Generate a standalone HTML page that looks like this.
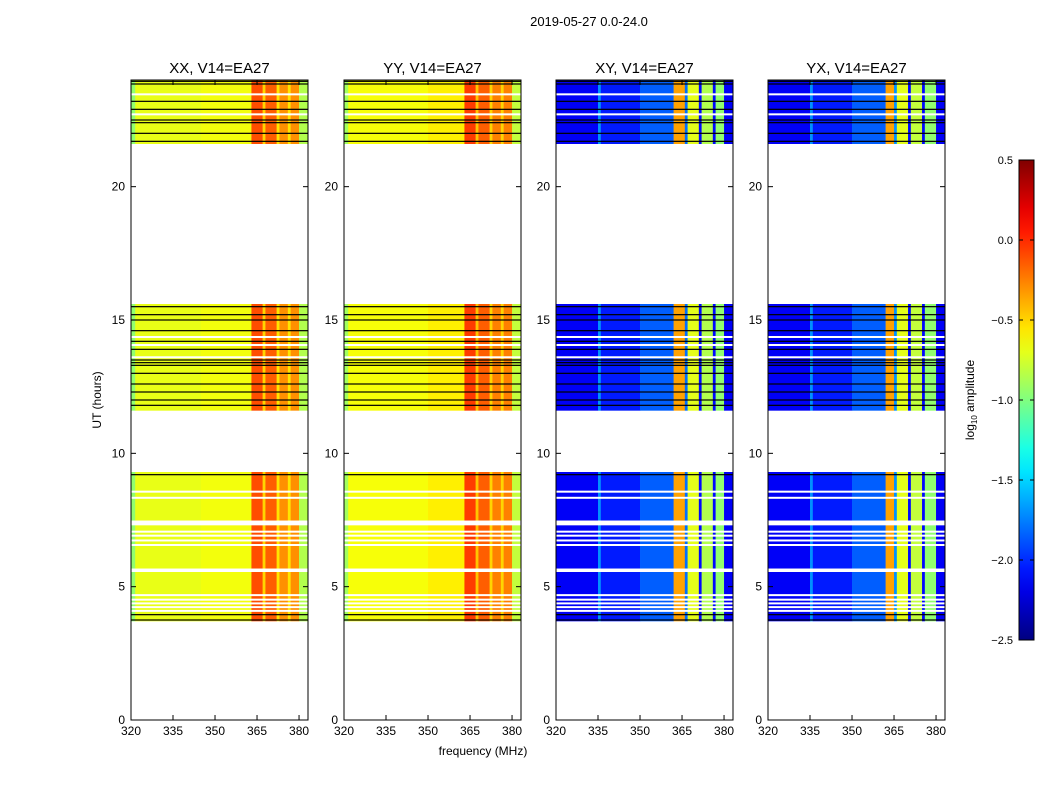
<!DOCTYPE html>
<html><head><meta charset="utf-8"><style>
body{margin:0;background:#fff;}
svg text{font-family:"Liberation Sans",sans-serif;}
</style></head><body>
<svg id="fig" width="1050" height="800" xmlns="http://www.w3.org/2000/svg">
<rect width="1050" height="800" fill="#fff"/>
<text x="589" y="26" font-size="13" text-anchor="middle">2019-05-27 0.0-24.0</text>
<text x="483" y="755" font-size="12" text-anchor="middle">frequency (MHz)</text>
<text transform="translate(101,400) rotate(-90)" font-size="12" text-anchor="middle">UT (hours)</text>
<g id="panels"></g>
<g id="cbar"></g>
</svg>
<script>
const panelTitles=["XX, V14=EA27","YY, V14=EA27","XY, V14=EA27","YX, V14=EA27"];
const panelLeft=[131,344,556,768];
const xTicks=[320,335,350,365,380];
const yTicks=[0,5,10,15,20];
const cbTicks=[0.5,0.0,-0.5,-1.0,-1.5,-2.0,-2.5];
// frequency bands [f0,f1,log amplitude]
const bandsXX=[[320,321.5,-0.95],[321.5,345,-0.69],[345,363,-0.66],[363,367,-0.1],[367,368,-0.5],[368,372,-0.15],[372,373,-0.55],[373,376,-0.3],[376,377,-0.55],[377,380,-0.3],[380,383.2,-0.85]];
const bandsYY=[[320,321.5,-0.9],[321.5,350,-0.65],[350,363,-0.58],[363,367,-0.05],[367,368,-0.45],[368,372,-0.15],[372,373,-0.5],[373,376,-0.25],[376,377,-0.5],[377,380,-0.25],[380,383.2,-0.8]];
const bandsXY=[[320,335,-2.15],[335,336,-1.7],[336,350,-2.05],[350,362,-1.85],[362,366,-0.35],[366,367,-1.8],[367,371,-0.7],[371,372,-2.1],[372,376,-0.85],[376,377,-2.1],[377,380,-0.95],[380,383.2,-2.15]];
const bandsYX=[[320,335,-2.15],[335,336,-1.7],[336,350,-2.05],[350,362,-1.85],[362,365,-0.35],[365,366,-1.7],[366,370,-0.7],[370,371,-2.1],[371,375,-0.8],[375,376,-2.1],[376,380,-0.95],[380,383.2,-2.15]];
const panelBands=[bandsXX,bandsYY,bandsXY,bandsYX];
// observed time blocks (hours)
const timeBlocks=[[3.7,9.3],[11.6,15.6],[21.6,24.0]];
// flagged (white) gaps [t0,t1]
const whiteGaps=[[7.3,7.48],[5.55,5.68],[4.08,4.13],[4.22,4.27],[4.36,4.41],[4.5,4.55],[4.68,4.72],[6.55,6.6],[6.72,6.77],[6.9,6.95],[7.05,7.1],[8.32,8.37],[8.55,8.6],[13.6,13.64],[14.05,14.1],[14.35,14.4],[22.7,22.75],[23.45,23.5]];
// black flagged lines (hours)
const blackLines=[3.75,3.95,9.2,11.8,12.0,12.3,12.6,13.0,13.3,13.4,13.5,13.9,14.2,14.6,15.0,15.2,15.5,21.7,22.0,22.4,22.5,22.9,23.2,23.85,23.95];
const NS="http://www.w3.org/2000/svg";
const pw=177, top0=80, bot0=720, xmin=320, xmax=383.2, ymin=0, ymax=24;
function yS(t){return bot0-(t-ymin)/(ymax-ymin)*(bot0-top0);}
function jet(v){let t=(v+2.5)/3;t=Math.max(0,Math.min(1,t));
 const f=x=>Math.max(0,Math.min(1,1.5-Math.abs(4*t-x)));
 return `rgb(${Math.round(255*f(3))},${Math.round(255*f(2))},${Math.round(255*f(1))})`;}
function el(tag,attrs,parent){const e=document.createElementNS(NS,tag);for(const k in attrs)e.setAttribute(k,attrs[k]);parent.appendChild(e);return e;}
const P=document.getElementById('panels');
panelTitles.forEach((title,i)=>{
 const L=panelLeft[i];
 const xS=f=>L+(f-xmin)/(xmax-xmin)*pw;
 const g=el('g',{},P);
 
 
 timeBlocks.forEach(tb=>{
  panelBands[i].forEach(b=>{
   const r=el('rect',{x:xS(b[0]),y:yS(tb[1]),width:xS(b[1])-xS(b[0])+0.3,height:yS(tb[0])-yS(tb[1]),fill:jet(b[2])},g);
   
   
  });
 });
 whiteGaps.forEach(w=>{const r=el('rect',{x:L,y:yS(w[1]),width:pw,height:Math.max(2,yS(w[0])-yS(w[1])),fill:'#fff'},g);
  });
 blackLines.forEach(t=>{const r=el('rect',{x:L,y:yS(t)-0.6,width:pw,height:1.2,fill:'#000'},g);
  });
 const fr=el('rect',{x:L,y:top0,width:pw,height:bot0-top0,fill:'none',stroke:'#000','stroke-width':1},g);
 
 const tt=el('text',{x:L+pw/2,y:73,'font-size':15,'text-anchor':'middle'},g);tt.textContent=title;
 
 xTicks.forEach(v=>{const x=xS(v);
  el('line',{x1:x,x2:x,y1:bot0,y2:bot0-5,stroke:'#000'},g);
  el('line',{x1:x,x2:x,y1:top0,y2:top0+5,stroke:'#000'},g);
  const t=el('text',{x:x,y:bot0+15,'font-size':12,'text-anchor':'middle'},g);t.textContent=v;
  });
 yTicks.forEach(v=>{const y=yS(v);
  el('line',{x1:L,x2:L+5,y1:y,y2:y,stroke:'#000'},g);
  el('line',{x1:L+pw,x2:L+pw-5,y1:y,y2:y,stroke:'#000'},g);
  const t=el('text',{x:L-6,y:y+4,'font-size':12,'text-anchor':'end'},g);t.textContent=v;
  });
});
// colorbar
const C=document.getElementById('cbar');
const cx=1019,cw=15,ct=160,cb=640,cmin=-2.5,cmax=0.5;
const cy=v=>cb-(v-cmin)/(cmax-cmin)*(cb-ct);
const defs=el('defs',{},C);const lg=el('linearGradient',{id:'jg',x1:0,y1:1,x2:0,y2:0},defs);
for(let k=0;k<=20;k++){el('stop',{offset:k/20,'stop-color':jet(cmin+k/20*(cmax-cmin))},lg);}
const cr=el('rect',{x:cx,y:ct,width:cw,height:cb-ct,fill:'url(#jg)',stroke:'#000'},C);

cbTicks.forEach(v=>{const y=cy(v);
 el('line',{x1:cx,x2:cx+4,y1:y,y2:y,stroke:'#000'},C);
 el('line',{x1:cx+cw,x2:cx+cw-4,y1:y,y2:y,stroke:'#000'},C);
 const t=el('text',{x:1013,y:y+4,'font-size':11,'text-anchor':'end'},C);t.textContent=(v<0?'\u2212':'')+Math.abs(v).toFixed(1);
 });
const ct2=el('text',{transform:'translate(974,400) rotate(-90)','font-size':12,'text-anchor':'middle'},C);
ct2.innerHTML='log<tspan font-size="8" dy="3">10</tspan><tspan dy="-3"> amplitude</tspan>';

</script>
</body></html>
